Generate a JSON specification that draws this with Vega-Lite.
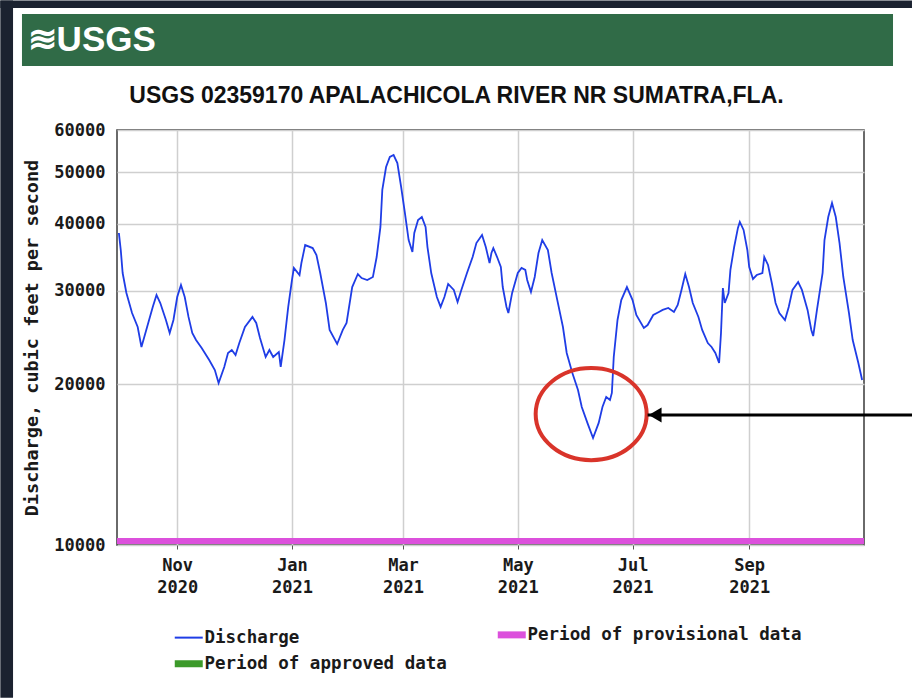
{
  "$schema": "https://vega.github.io/schema/vega-lite/v6.json",
  "background": "white",
  "padding": {"left": 0, "top": 0, "right": 0, "bottom": 0},
  "width": 747,
  "height": 415,
  "view": {"stroke": "#3a3a3a", "strokeWidth": 1.5},
  "datasets": {
    "discharge": [
      {"date": "2020-10-01", "cfs": 38460, "series": "Discharge"},
      {"date": "2020-10-02", "cfs": 35740, "series": "Discharge"},
      {"date": "2020-10-03", "cfs": 32360, "series": "Discharge"},
      {"date": "2020-10-05", "cfs": 29690, "series": "Discharge"},
      {"date": "2020-10-08", "cfs": 27230, "series": "Discharge"},
      {"date": "2020-10-11", "cfs": 25630, "series": "Discharge"},
      {"date": "2020-10-13", "cfs": 23510, "series": "Discharge"},
      {"date": "2020-10-16", "cfs": 25630, "series": "Discharge"},
      {"date": "2020-10-19", "cfs": 27950, "series": "Discharge"},
      {"date": "2020-10-21", "cfs": 29430, "series": "Discharge"},
      {"date": "2020-10-23", "cfs": 28430, "series": "Discharge"},
      {"date": "2020-10-26", "cfs": 26420, "series": "Discharge"},
      {"date": "2020-10-28", "cfs": 24970, "series": "Discharge"},
      {"date": "2020-10-30", "cfs": 26420, "series": "Discharge"},
      {"date": "2020-11-01", "cfs": 29170, "series": "Discharge"},
      {"date": "2020-11-03", "cfs": 30730, "series": "Discharge"},
      {"date": "2020-11-05", "cfs": 29170, "series": "Discharge"},
      {"date": "2020-11-07", "cfs": 26770, "series": "Discharge"},
      {"date": "2020-11-09", "cfs": 24970, "series": "Discharge"},
      {"date": "2020-11-11", "cfs": 24230, "series": "Discharge"},
      {"date": "2020-11-14", "cfs": 23410, "series": "Discharge"},
      {"date": "2020-11-18", "cfs": 22230, "series": "Discharge"},
      {"date": "2020-11-21", "cfs": 21290, "series": "Discharge"},
      {"date": "2020-11-23", "cfs": 20130, "series": "Discharge"},
      {"date": "2020-11-26", "cfs": 21570, "series": "Discharge"},
      {"date": "2020-11-28", "cfs": 22910, "series": "Discharge"},
      {"date": "2020-11-30", "cfs": 23210, "series": "Discharge"},
      {"date": "2020-12-02", "cfs": 22710, "series": "Discharge"},
      {"date": "2020-12-04", "cfs": 23920, "series": "Discharge"},
      {"date": "2020-12-07", "cfs": 25630, "series": "Discharge"},
      {"date": "2020-12-11", "cfs": 26770, "series": "Discharge"},
      {"date": "2020-12-13", "cfs": 26080, "series": "Discharge"},
      {"date": "2020-12-15", "cfs": 24440, "series": "Discharge"},
      {"date": "2020-12-18", "cfs": 22520, "series": "Discharge"},
      {"date": "2020-12-20", "cfs": 23210, "series": "Discharge"},
      {"date": "2020-12-22", "cfs": 22520, "series": "Discharge"},
      {"date": "2020-12-25", "cfs": 23010, "series": "Discharge"},
      {"date": "2020-12-26", "cfs": 21570, "series": "Discharge"},
      {"date": "2020-12-28", "cfs": 24230, "series": "Discharge"},
      {"date": "2020-12-30", "cfs": 27950, "series": "Discharge"},
      {"date": "2021-01-01", "cfs": 31400, "series": "Discharge"},
      {"date": "2021-01-02", "cfs": 33070, "series": "Discharge"},
      {"date": "2021-01-05", "cfs": 32080, "series": "Discharge"},
      {"date": "2021-01-06", "cfs": 33790, "series": "Discharge"},
      {"date": "2021-01-08", "cfs": 36510, "series": "Discharge"},
      {"date": "2021-01-12", "cfs": 36040, "series": "Discharge"},
      {"date": "2021-01-14", "cfs": 34970, "series": "Discharge"},
      {"date": "2021-01-16", "cfs": 32360, "series": "Discharge"},
      {"date": "2021-01-19", "cfs": 28430, "series": "Discharge"},
      {"date": "2021-01-21", "cfs": 25310, "series": "Discharge"},
      {"date": "2021-01-25", "cfs": 23820, "series": "Discharge"},
      {"date": "2021-01-28", "cfs": 25310, "series": "Discharge"},
      {"date": "2021-01-30", "cfs": 26080, "series": "Discharge"},
      {"date": "2021-02-02", "cfs": 30460, "series": "Discharge"},
      {"date": "2021-02-05", "cfs": 32220, "series": "Discharge"},
      {"date": "2021-02-07", "cfs": 31670, "series": "Discharge"},
      {"date": "2021-02-10", "cfs": 31400, "series": "Discharge"},
      {"date": "2021-02-13", "cfs": 31810, "series": "Discharge"},
      {"date": "2021-02-15", "cfs": 34670, "series": "Discharge"},
      {"date": "2021-02-17", "cfs": 39480, "series": "Discharge"},
      {"date": "2021-02-18", "cfs": 46320, "series": "Discharge"},
      {"date": "2021-02-20", "cfs": 51140, "series": "Discharge"},
      {"date": "2021-02-22", "cfs": 53400, "series": "Discharge"},
      {"date": "2021-02-24", "cfs": 53860, "series": "Discharge"},
      {"date": "2021-02-26", "cfs": 52030, "series": "Discharge"},
      {"date": "2021-02-28", "cfs": 46920, "series": "Discharge"},
      {"date": "2021-03-02", "cfs": 41940, "series": "Discharge"},
      {"date": "2021-03-04", "cfs": 37310, "series": "Discharge"},
      {"date": "2021-03-06", "cfs": 35430, "series": "Discharge"},
      {"date": "2021-03-07", "cfs": 38460, "series": "Discharge"},
      {"date": "2021-03-09", "cfs": 40690, "series": "Discharge"},
      {"date": "2021-03-11", "cfs": 41210, "series": "Discharge"},
      {"date": "2021-03-13", "cfs": 39480, "series": "Discharge"},
      {"date": "2021-03-14", "cfs": 36200, "series": "Discharge"},
      {"date": "2021-03-16", "cfs": 32360, "series": "Discharge"},
      {"date": "2021-03-19", "cfs": 29170, "series": "Discharge"},
      {"date": "2021-03-21", "cfs": 27950, "series": "Discharge"},
      {"date": "2021-03-23", "cfs": 29170, "series": "Discharge"},
      {"date": "2021-03-25", "cfs": 30860, "series": "Discharge"},
      {"date": "2021-03-28", "cfs": 30080, "series": "Discharge"},
      {"date": "2021-03-30", "cfs": 28550, "series": "Discharge"},
      {"date": "2021-04-01", "cfs": 30080, "series": "Discharge"},
      {"date": "2021-04-04", "cfs": 32360, "series": "Discharge"},
      {"date": "2021-04-07", "cfs": 34670, "series": "Discharge"},
      {"date": "2021-04-09", "cfs": 36830, "series": "Discharge"},
      {"date": "2021-04-12", "cfs": 38130, "series": "Discharge"},
      {"date": "2021-04-14", "cfs": 36200, "series": "Discharge"},
      {"date": "2021-04-16", "cfs": 33790, "series": "Discharge"},
      {"date": "2021-04-17", "cfs": 35280, "series": "Discharge"},
      {"date": "2021-04-18", "cfs": 36040, "series": "Discharge"},
      {"date": "2021-04-20", "cfs": 34670, "series": "Discharge"},
      {"date": "2021-04-22", "cfs": 33210, "series": "Discharge"},
      {"date": "2021-04-23", "cfs": 30460, "series": "Discharge"},
      {"date": "2021-04-25", "cfs": 27950, "series": "Discharge"},
      {"date": "2021-04-26", "cfs": 27230, "series": "Discharge"},
      {"date": "2021-04-28", "cfs": 29690, "series": "Discharge"},
      {"date": "2021-05-01", "cfs": 32360, "series": "Discharge"},
      {"date": "2021-05-03", "cfs": 33070, "series": "Discharge"},
      {"date": "2021-05-05", "cfs": 32790, "series": "Discharge"},
      {"date": "2021-05-06", "cfs": 31400, "series": "Discharge"},
      {"date": "2021-05-08", "cfs": 29820, "series": "Discharge"},
      {"date": "2021-05-10", "cfs": 31810, "series": "Discharge"},
      {"date": "2021-05-12", "cfs": 35280, "series": "Discharge"},
      {"date": "2021-05-14", "cfs": 37310, "series": "Discharge"},
      {"date": "2021-05-17", "cfs": 35740, "series": "Discharge"},
      {"date": "2021-05-19", "cfs": 32360, "series": "Discharge"},
      {"date": "2021-05-22", "cfs": 28790, "series": "Discharge"},
      {"date": "2021-05-25", "cfs": 25630, "series": "Discharge"},
      {"date": "2021-05-27", "cfs": 22910, "series": "Discharge"},
      {"date": "2021-05-30", "cfs": 21010, "series": "Discharge"},
      {"date": "2021-06-02", "cfs": 19530, "series": "Discharge"},
      {"date": "2021-06-04", "cfs": 18150, "series": "Discharge"},
      {"date": "2021-06-07", "cfs": 16940, "series": "Discharge"},
      {"date": "2021-06-10", "cfs": 15870, "series": "Discharge"},
      {"date": "2021-06-13", "cfs": 16940, "series": "Discharge"},
      {"date": "2021-06-15", "cfs": 18150, "series": "Discharge"},
      {"date": "2021-06-17", "cfs": 18950, "series": "Discharge"},
      {"date": "2021-06-19", "cfs": 18700, "series": "Discharge"},
      {"date": "2021-06-20", "cfs": 19280, "series": "Discharge"},
      {"date": "2021-06-21", "cfs": 22520, "series": "Discharge"},
      {"date": "2021-06-23", "cfs": 26420, "series": "Discharge"},
      {"date": "2021-06-25", "cfs": 28790, "series": "Discharge"},
      {"date": "2021-06-28", "cfs": 30460, "series": "Discharge"},
      {"date": "2021-07-01", "cfs": 28790, "series": "Discharge"},
      {"date": "2021-07-03", "cfs": 27000, "series": "Discharge"},
      {"date": "2021-07-07", "cfs": 25530, "series": "Discharge"},
      {"date": "2021-07-09", "cfs": 25850, "series": "Discharge"},
      {"date": "2021-07-12", "cfs": 27000, "series": "Discharge"},
      {"date": "2021-07-15", "cfs": 27350, "series": "Discharge"},
      {"date": "2021-07-17", "cfs": 27590, "series": "Discharge"},
      {"date": "2021-07-20", "cfs": 27830, "series": "Discharge"},
      {"date": "2021-07-23", "cfs": 27350, "series": "Discharge"},
      {"date": "2021-07-25", "cfs": 28180, "series": "Discharge"},
      {"date": "2021-07-27", "cfs": 30080, "series": "Discharge"},
      {"date": "2021-07-29", "cfs": 32220, "series": "Discharge"},
      {"date": "2021-07-31", "cfs": 30460, "series": "Discharge"},
      {"date": "2021-08-02", "cfs": 28430, "series": "Discharge"},
      {"date": "2021-08-05", "cfs": 26770, "series": "Discharge"},
      {"date": "2021-08-07", "cfs": 25310, "series": "Discharge"},
      {"date": "2021-08-10", "cfs": 23920, "series": "Discharge"},
      {"date": "2021-08-12", "cfs": 23510, "series": "Discharge"},
      {"date": "2021-08-14", "cfs": 22910, "series": "Discharge"},
      {"date": "2021-08-16", "cfs": 21940, "series": "Discharge"},
      {"date": "2021-08-17", "cfs": 24970, "series": "Discharge"},
      {"date": "2021-08-18", "cfs": 30330, "series": "Discharge"},
      {"date": "2021-08-19", "cfs": 28430, "series": "Discharge"},
      {"date": "2021-08-21", "cfs": 29690, "series": "Discharge"},
      {"date": "2021-08-22", "cfs": 32790, "series": "Discharge"},
      {"date": "2021-08-24", "cfs": 36200, "series": "Discharge"},
      {"date": "2021-08-26", "cfs": 39310, "series": "Discharge"},
      {"date": "2021-08-27", "cfs": 40340, "series": "Discharge"},
      {"date": "2021-08-29", "cfs": 38970, "series": "Discharge"},
      {"date": "2021-08-31", "cfs": 35740, "series": "Discharge"},
      {"date": "2021-09-01", "cfs": 33210, "series": "Discharge"},
      {"date": "2021-09-03", "cfs": 31540, "series": "Discharge"},
      {"date": "2021-09-05", "cfs": 32080, "series": "Discharge"},
      {"date": "2021-09-08", "cfs": 32360, "series": "Discharge"},
      {"date": "2021-09-09", "cfs": 34670, "series": "Discharge"},
      {"date": "2021-09-11", "cfs": 33500, "series": "Discharge"},
      {"date": "2021-09-13", "cfs": 30990, "series": "Discharge"},
      {"date": "2021-09-15", "cfs": 28430, "series": "Discharge"},
      {"date": "2021-09-17", "cfs": 27230, "series": "Discharge"},
      {"date": "2021-09-20", "cfs": 26420, "series": "Discharge"},
      {"date": "2021-09-22", "cfs": 27950, "series": "Discharge"},
      {"date": "2021-09-24", "cfs": 30080, "series": "Discharge"},
      {"date": "2021-09-27", "cfs": 31120, "series": "Discharge"},
      {"date": "2021-09-29", "cfs": 30080, "series": "Discharge"},
      {"date": "2021-10-02", "cfs": 27590, "series": "Discharge"},
      {"date": "2021-10-04", "cfs": 25310, "series": "Discharge"},
      {"date": "2021-10-05", "cfs": 24650, "series": "Discharge"},
      {"date": "2021-10-07", "cfs": 27590, "series": "Discharge"},
      {"date": "2021-10-10", "cfs": 32360, "series": "Discharge"},
      {"date": "2021-10-11", "cfs": 37310, "series": "Discharge"},
      {"date": "2021-10-13", "cfs": 41210, "series": "Discharge"},
      {"date": "2021-10-15", "cfs": 43780, "series": "Discharge"},
      {"date": "2021-10-17", "cfs": 41210, "series": "Discharge"},
      {"date": "2021-10-19", "cfs": 36830, "series": "Discharge"},
      {"date": "2021-10-21", "cfs": 31810, "series": "Discharge"},
      {"date": "2021-10-24", "cfs": 27230, "series": "Discharge"},
      {"date": "2021-10-26", "cfs": 24230, "series": "Discharge"},
      {"date": "2021-10-29", "cfs": 21940, "series": "Discharge"},
      {"date": "2021-10-31", "cfs": 20390, "series": "Discharge"}
    ],
    "provisional": [
      {"date": "2020-09-30", "end": "2021-11-01", "cfs": 10000, "series": "Period of provisional data"}
    ],
    "lowflow": [
      {"date": "2021-06-09", "cfs": 17600, "note": "low flow"}
    ],
    "arrow": [
      {"date": "2021-07-09", "end": "2021-11-27", "cfs": 17530, "head": "2021-07-13"}
    ],
    "heading": [
      {"logo": "≋USGS", "station": "USGS 02359170 APALACHICOLA RIVER NR SUMATRA,FLA."}
    ]
  },
  "layer": [
    {
      "data": {"name": "heading"},
      "mark": {"type": "rect", "color": "#1b2230"},
      "encoding": {
        "x": {"datum": {"year": 2020, "month": 7, "date": 30, "utc": true}, "type": "temporal", "scale": {"type": "utc"}},
        "x2": {"datum": {"year": 2020, "month": 8, "date": 5, "hours": 18, "utc": true}},
        "y": {"datum": 105000, "type": "quantitative", "scale": {"type": "log"}},
        "y2": {"datum": 5170}
      }
    },
    {
      "data": {"name": "heading"},
      "mark": {"type": "rect", "color": "#1b2230"},
      "encoding": {
        "x": {"datum": {"year": 2020, "month": 7, "date": 30, "utc": true}, "type": "temporal", "scale": {"type": "utc"}},
        "x2": {"datum": {"year": 2021, "month": 11, "date": 26, "hours": 12, "utc": true}},
        "y": {"datum": 105000, "type": "quantitative", "scale": {"type": "log"}},
        "y2": {"datum": 101610}
      }
    },
    {
      "data": {"name": "heading"},
      "mark": {"type": "rect", "color": "#306b47"},
      "encoding": {
        "x": {"datum": {"year": 2020, "month": 8, "date": 10, "hours": 12, "utc": true}, "type": "temporal", "scale": {"type": "utc"}},
        "x2": {"datum": {"year": 2021, "month": 11, "date": 16, "hours": 10, "utc": true}},
        "y": {"datum": 99000, "type": "quantitative", "scale": {"type": "log"}},
        "y2": {"datum": 79100}
      }
    },
    {
      "data": {"name": "heading"},
      "mark": {"type": "text", "align": "left", "baseline": "middle", "font": "Liberation Sans", "fontWeight": "bold", "fontSize": 35, "color": "white"},
      "encoding": {
        "text": {"field": "logo"},
        "x": {"datum": {"year": 2020, "month": 8, "date": 13, "hours": 12, "utc": true}, "type": "temporal", "scale": {"type": "utc"}},
        "y": {"datum": 88500, "type": "quantitative", "scale": {"type": "log"}}
      }
    },
    {
      "data": {"name": "heading"},
      "mark": {"type": "text", "align": "center", "baseline": "middle", "font": "Liberation Sans", "fontWeight": "bold", "fontSize": 23, "color": "#111111"},
      "encoding": {
        "text": {"field": "station"},
        "x": {"datum": {"year": 2021, "month": 3, "date": 29, "hours": 10, "utc": true}, "type": "temporal", "scale": {"type": "utc"}},
        "y": {"datum": 69490, "type": "quantitative", "scale": {"type": "log"}}
      }
    },
    {
      "encoding": {
        "x": {
          "field": "date", "type": "temporal",
          "scale": {"type": "utc", "domain": [{"year": 2020, "month": 9, "date": 30, "utc": true}, {"year": 2021, "month": 11, "date": 1, "utc": true}]},
          "axis": {"title": null,
            "values": [{"year": 2020, "month": 11, "date": 1, "utc": true}, {"year": 2021, "month": 1, "date": 1, "utc": true}, {"year": 2021, "month": 3, "date": 1, "utc": true}, {"year": 2021, "month": 5, "date": 1, "utc": true}, {"year": 2021, "month": 7, "date": 1, "utc": true}, {"year": 2021, "month": 9, "date": 1, "utc": true}],
            "labelExpr": "[utcFormat(datum.value, '%b'), utcFormat(datum.value, '%Y')]", "grid": true, "tickSize": 4, "labelPadding": 8, "labelLineHeight": 22, "labelFlush": false, "labelOverlap": false}
        },
        "y": {
          "field": "cfs", "type": "quantitative",
          "scale": {"type": "log", "domain": [10000, 60000], "nice": false},
          "axis": {"title": "Discharge, cubic feet per second", "values": [10000, 20000, 30000, 40000, 50000, 60000], "format": "d", "grid": true, "ticks": false, "labelPadding": 12, "titlePadding": 12, "labelFlush": false}
        }
      },
      "layer": [
        {
          "data": {"name": "provisional"},
          "mark": {"type": "rule", "strokeWidth": 6, "yOffset": -4},
          "encoding": {
            "x2": {"field": "end"},
            "color": {"field": "series", "type": "nominal",
              "scale": {"domain": ["Discharge", "Period of provisional data", "Period of approved data"], "range": ["#1f3de6", "#dc50dc", "#3c9a2a"]},
              "legend": {"title": null, "encode": {"symbols": {"update": {"strokeWidth": {"signal": "datum.value === 'Discharge' ? 2 : 7"}}}}}}
          }
        },
        {
          "data": {"name": "discharge"},
          "mark": {"type": "line", "strokeWidth": 1.8},
          "encoding": {
            "color": {"field": "series", "type": "nominal"}
          }
        },
        {
          "data": {"name": "lowflow"},
          "mark": {"type": "point", "shape": "M 1 0 C 1 0.4584 0.5523 0.83 0 0.83 C -0.5523 0.83 -1 0.4584 -1 0 C -1 -0.4584 -0.5523 -0.83 0 -0.83 C 0.5523 -0.83 1 -0.4584 1 0 Z", "size": 12321, "filled": false, "stroke": "#d9342a", "strokeWidth": 4, "opacity": 1}
        },
        {
          "data": {"name": "arrow"},
          "mark": {"type": "rule", "color": "#000000", "strokeWidth": 3},
          "encoding": {"x2": {"field": "end"}}
        },
        {
          "data": {"name": "arrow"},
          "mark": {"type": "point", "shape": "triangle-left", "size": 220, "filled": true, "color": "#000000", "opacity": 1},
          "encoding": {"x": {"field": "head", "type": "temporal"}}
        }
      ]
    }
  ],
  "config": {
    "axis": {"labelFont": "DejaVu Sans Mono", "labelFontWeight": "bold", "labelFontSize": 17, "labelColor": "#1a1a1a", "titleFont": "DejaVu Sans Mono", "titleFontWeight": "bold", "titleFontSize": 18.5, "titleColor": "#1a1a1a", "gridColor": "#cfcfcf", "gridWidth": 1.5, "domain": false, "tickColor": "#555555"},
    "legend": {"orient": "bottom", "columns": 2, "symbolType": "stroke", "symbolSize": 784, "labelFont": "DejaVu Sans Mono", "labelFontWeight": "bold", "labelFontSize": 17.5, "labelColor": "#1a1a1a", "labelLimit": 0, "columnPadding": 36, "rowPadding": 0, "offset": 31, "labelOffset": 7, "layout": {"bottom": {"anchor": "middle"}}}
  }
}
